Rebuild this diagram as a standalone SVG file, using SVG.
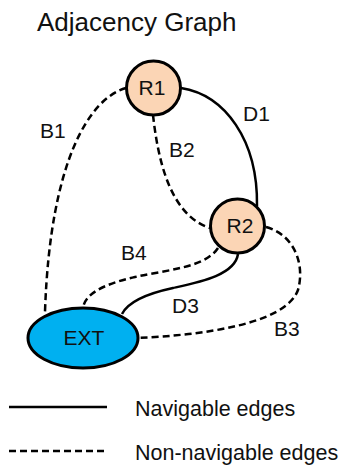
<svg xmlns="http://www.w3.org/2000/svg" width="349" height="465" viewBox="0 0 349 465">
<style>
text{font-family:"Liberation Sans",Arial,sans-serif;fill:#111;font-size:21px}
.t{font-size:26px}
.lg{font-size:21.5px}
.nl{text-anchor:middle}
.s{fill:none;stroke:#000;stroke-width:2.5}
.d{fill:none;stroke:#000;stroke-width:2.5;stroke-dasharray:7 4}
.room{fill:#FBD5B5;stroke:#000;stroke-width:3}
.ext{fill:#00B0F0;stroke:#000;stroke-width:3}
</style>
<rect width="349" height="465" fill="#fff"/>
<text class="t" x="37" y="31">Adjacency Graph</text>
<g id="connectors">
<path class="d" d="M126,88 C90,98 50,160 45,312"/>
<path class="s" d="M181,88 C225,95 258,140 257,206"/>
<path class="d" d="M153,115 C158,160 170,215 210,228"/>
<path class="d" d="M218,248 C205,268 165,270 135,277 C100,285 85,295 83,308"/>
<path class="s" d="M238,254 C235,275 200,282 173,288 C145,294 128,302 122,314"/>
<path class="d" d="M266,227 C295,235 305,265 298,290 C285,325 200,335 138,338"/>
</g>
<g id="edge-labels">
<text x="40" y="138">B1</text>
<text x="243" y="121">D1</text>
<text x="169" y="157">B2</text>
<text x="121" y="260">B4</text>
<text x="172" y="313">D3</text>
<text x="274" y="336">B3</text>
</g>
<g id="R1"><circle class="room" cx="153.5" cy="88" r="27"/><text class="nl" x="152" y="95">R1</text></g>
<g id="R2"><circle class="room" cx="237.5" cy="226" r="27"/><text class="nl" x="240" y="233">R2</text></g>
<g id="EXT"><ellipse class="ext" cx="83" cy="338" rx="55" ry="30"/><text class="nl" x="84" y="345">EXT</text></g>
<g id="legend">
<line class="s" x1="9" y1="407" x2="107" y2="407"/>
<text class="lg" x="135" y="416">Navigable edges</text>
<line class="d" x1="9" y1="451" x2="107" y2="451"/>
<text class="lg" x="135" y="460">Non-navigable edges</text>
</g>
</svg>
